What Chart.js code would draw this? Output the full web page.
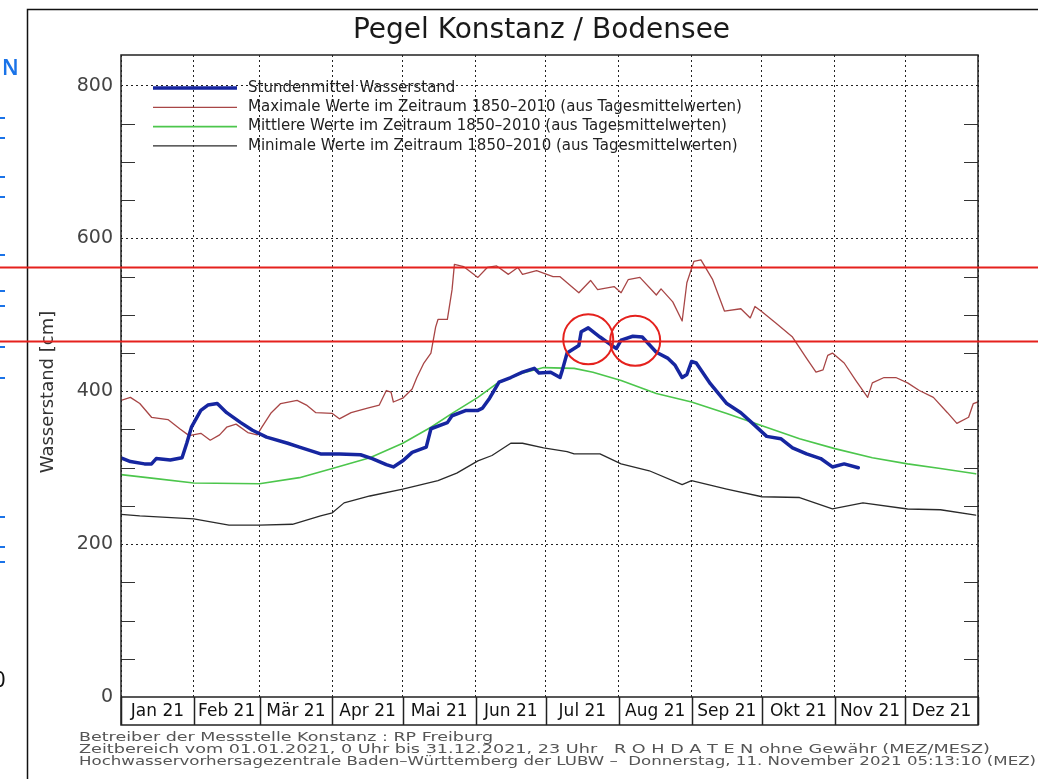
<!DOCTYPE html>
<html lang="de">
<head>
<meta charset="UTF-8">
<title>Pegel Konstanz / Bodensee</title>
<script src="https://cdn.jsdelivr.net/npm/chart.js@4.4.1/dist/chart.umd.min.js"></script>
<style>
    html, body {
        margin: 0;
        padding: 0;
        background: #fff;
    }
    body {
        width: 1038px;
        height: 779px;
        position: relative;
        overflow: hidden;
        font-family: 'DejaVu Sans', sans-serif;
    }
    #wrap {
        position: absolute;
        left: 0;
        top: 0;
        width: 1038px;
        height: 779px;
    }
    .edge-n {
        position: absolute;
        left: 2px;
        top: 55px;
        color: #1a73e8;
        font: 600 21px 'Noto Sans', sans-serif;
        line-height: 24px;
    }
    .edge-0 {
        position: absolute;
        left: -7px;
        top: 665px;
        color: #111;
        font: 22px 'Noto Sans', sans-serif;
        line-height: 26px;
    }
    .lnk {
        position: absolute;
        left: 0;
        width: 5px;
        height: 2px;
        background: #1a73e8;
    }
</style>
</head>
<body>
<div id="wrap"><canvas id="pegel" width="1038" height="779"></canvas></div>

<div class="edge-n">N</div>
<div class="edge-0">0</div>
<div class="lnk" style="top:117px"></div>
<div class="lnk" style="top:137px"></div>
<div class="lnk" style="top:176px"></div>
<div class="lnk" style="top:196px"></div>
<div class="lnk" style="top:254px"></div>
<div class="lnk" style="top:290px"></div>
<div class="lnk" style="top:305px"></div>
<div class="lnk" style="top:346px"></div>
<div class="lnk" style="top:377px"></div>
<div class="lnk" style="top:516px"></div>
<div class="lnk" style="top:546px"></div>
<div class="lnk" style="top:561px"></div>

<script>
    // months of 2021, x values are days since 1 Jan
    const monthLabels = ['Jan 21', 'Feb 21', 'Mär 21', 'Apr 21', 'Mai 21', 'Jun 21',
                         'Jul 21', 'Aug 21', 'Sep 21', 'Okt 21', 'Nov 21', 'Dez 21'];
    const monthStarts = [0, 31, 59, 90, 120, 151, 181, 212, 243, 273, 304, 334, 365];

    const yTicks = [0, 50, 100, 150, 200, 250, 300, 350, 400, 450, 500, 550, 600, 650, 700, 750, 800];
    const gridLevels = [200, 400, 600, 800];

    // Stundenmittel Wasserstand 2021 (cm), read up to 11 Nov
    const stundenmittel = [
        [0, 313], [4, 308], [10, 305], [13, 305], [15, 312], [21, 310], [26, 313], [28, 332],
        [30, 353], [34, 375], [37, 382], [41, 384], [45, 372], [51, 359], [56, 349], [62, 340],
        [71, 332], [76, 327], [85, 318], [93, 318], [102, 317], [107, 312], [113, 304], [116, 301],
        [120, 309], [124, 320], [130, 327], [132, 351], [139, 359], [141, 368], [147, 375], [152, 375],
        [154, 378], [157, 391], [161, 412], [166, 418], [171, 425], [176, 430], [178, 424], [183, 425],
        [187, 418], [188, 428], [190, 450], [193, 456], [195, 460], [196, 478], [199, 483], [204, 471],
        [209, 460], [211, 456], [213, 467], [218, 472], [222, 471], [228, 451], [233, 443], [236, 434],
        [239, 418], [241, 422], [243, 439], [245, 437], [251, 410], [258, 384], [264, 372], [269, 358],
        [275, 341], [281, 338], [286, 326], [292, 318], [298, 312], [303, 301], [308, 305], [314, 300]
    ];

    // Maximale Werte 1850-2010
    const maxWerte = [
        [0, 388], [4, 392], [8, 384], [13, 366], [20, 363], [25, 351], [29, 342], [34, 345],
        [38, 336], [42, 343], [45, 353], [49, 357], [54, 346], [58, 343], [60, 353], [64, 372],
        [68, 384], [75, 388], [79, 382], [83, 372], [90, 371], [93, 364], [98, 372], [105, 378],
        [110, 382], [113, 401], [115, 399], [116, 386], [120, 391], [124, 403], [126, 418], [129, 437],
        [132, 450], [134, 484], [135, 494], [139, 494], [141, 533], [142, 566], [146, 563], [152, 549],
        [156, 562], [160, 564], [165, 553], [169, 562], [171, 553], [177, 558], [184, 550], [187, 550],
        [195, 529], [200, 545], [203, 533], [210, 537], [213, 529], [216, 546], [221, 549], [228, 526],
        [230, 534], [235, 517], [239, 492], [241, 542], [244, 570], [247, 572], [252, 546], [257, 505],
        [264, 508], [268, 496], [270, 511], [273, 504], [279, 489], [286, 471], [292, 443], [296, 425],
        [299, 428], [301, 447], [303, 450], [308, 437], [313, 414], [318, 392], [320, 411], [325, 418],
        [330, 418], [335, 411], [340, 401], [346, 392], [352, 372], [356, 358], [361, 366], [363, 384],
        [365, 386]
    ];

    // Mittlere Werte 1850-2010
    const mittelWerte = [
        [0, 291], [14, 286], [31, 280], [59, 279], [76, 287], [90, 299], [106, 313], [120, 332],
        [132, 353], [141, 371], [152, 392], [160, 410], [170, 423], [180, 431], [193, 430], [201, 425],
        [213, 414], [228, 397], [243, 386], [258, 371], [273, 355], [289, 338], [304, 325], [320, 313],
        [335, 305], [349, 299], [364, 292]
    ];

    // Minimale Werte 1850-2010
    const minWerte = [
        [0, 239], [8, 237], [31, 233], [46, 225], [59, 225], [73, 226], [85, 237], [90, 241],
        [95, 254], [106, 263], [120, 272], [135, 283], [143, 293], [152, 309], [158, 316], [166, 332],
        [171, 332], [180, 326], [190, 321], [193, 318], [204, 318], [213, 305], [225, 296], [239, 278],
        [243, 283], [258, 272], [273, 262], [289, 261], [303, 246], [316, 254], [335, 246], [349, 245],
        [364, 238]
    ];

    // red hand-drawn marks on the screenshot (cm levels, circle centres as day / cm)
    const markLevels = [562, 465];
    const markCircles = [[199, 468], [219, 466]];

    const footerLines = [
        'Betreiber der Messstelle Konstanz : RP Freiburg',
        'Zeitbereich vom 01.01.2021, 0 Uhr bis 31.12.2021, 23 Uhr   R O H D A T E N ohne Gewähr (MEZ/MESZ)',
        'Hochwasservorhersagezentrale Baden\u2013Württemberg der LUBW \u2013  Donnerstag, 11. November 2021 05:13:10 (MEZ)'
    ];
    const footerWidths = [414, 911, 957];

    const monthMids = monthStarts.slice(0, -1).map((d, i) => (d + monthStarts[i + 1]) / 2);
    const xTicks = [...monthStarts, ...monthMids].sort((a, b) => a - b);

    const toPoints = arr => arr.map(p => ({ x: p[0], y: p[1] }));

    const pegelDecor = {
        id: 'pegelDecor',
        beforeDraw(chart) {
            const c = chart.ctx;
            c.save();
            c.fillStyle = '#fff';
            c.fillRect(0, 0, chart.width, chart.height);
            // outer frame of the picture
            c.strokeStyle = '#111';
            c.lineWidth = 1.5;
            c.beginPath();
            c.moveTo(27.5, chart.height);
            c.lineTo(27.5, 9.5);
            c.lineTo(chart.width, 9.5);
            c.stroke();
            c.restore();
        },
        afterDatasetsDraw(chart) {
            const c = chart.ctx, a = chart.chartArea, x = chart.scales.x, y = chart.scales.y;
            c.save();
            // small inward ticks every 50 cm on both sides
            c.strokeStyle = '#333';
            c.lineWidth = 1.2;
            c.beginPath();
            yTicks.forEach(v => {
                if (v === 0 || gridLevels.includes(v)) return;
                const py = Math.round(y.getPixelForValue(v)) + 0.5;
                c.moveTo(a.left, py); c.lineTo(a.left + 14, py);
                c.moveTo(a.right, py); c.lineTo(a.right - 14, py);
            });
            c.stroke();

            // plot box and month label boxes
            const rowBottom = a.bottom + 28;
            c.strokeStyle = '#222';
            c.lineWidth = 1.5;
            c.strokeRect(a.left, a.top, a.right - a.left, rowBottom - a.top);
            c.beginPath();
            c.moveTo(a.left, a.bottom);
            c.lineTo(a.right, a.bottom);
            monthStarts.forEach(d => {
                const px = Math.round(x.getPixelForValue(d)) + 0.5;
                c.moveTo(px, a.bottom);
                c.lineTo(px, rowBottom);
            });
            c.stroke();
            c.restore();
        },
        afterDraw(chart) {
            const c = chart.ctx, a = chart.chartArea, x = chart.scales.x, y = chart.scales.y;
            c.save();

            // title
            c.fillStyle = '#1a1a1a';
            c.font = "28px 'DejaVu Sans'";
            c.textAlign = 'center';
            c.textBaseline = 'middle';
            c.fillText('Pegel Konstanz / Bodensee', (a.left + a.right) / 2 - 8, 31);

            // y axis title
            c.save();
            c.translate(48, 392);
            c.rotate(-Math.PI / 2);
            c.fillStyle = '#333';
            c.font = "18px 'DejaVu Sans'";
            c.fillText('Wasserstand [cm]', 0, 0);
            c.restore();

            // legend inside the plot
            c.textAlign = 'left';
            c.font = "15px 'DejaVu Sans'";
            chart.data.datasets.forEach((ds, i) => {
                const ly = a.top + 33 + i * 19.3;
                c.strokeStyle = ds.borderColor;
                c.lineWidth = ds.borderWidth;
                c.beginPath();
                c.moveTo(a.left + 32, ly);
                c.lineTo(a.left + 116, ly);
                c.stroke();
                c.fillStyle = '#222';
                c.fillText(ds.label, a.left + 127, ly);
            });

            // footer lines
            c.fillStyle = '#555';
            c.font = "13px 'DejaVu Sans'";
            footerLines.forEach((line, i) => {
                const w = c.measureText(line).width;
                c.save();
                c.translate(79, 738 + i * 12);
                c.scale(footerWidths[i] / w, 1);
                c.fillText(line, 0, 0);
                c.restore();
            });

            // red marks
            c.strokeStyle = '#e5211d';
            c.lineWidth = 2;
            c.beginPath();
            markLevels.forEach(v => {
                const py = y.getPixelForValue(v);
                c.moveTo(0, py);
                c.lineTo(chart.width, py);
            });
            c.stroke();
            markCircles.forEach(p => {
                c.beginPath();
                c.arc(x.getPixelForValue(p[0]), y.getPixelForValue(p[1]), 25, 0, Math.PI * 2);
                c.stroke();
            });
            c.restore();
        }
    };

    new Chart(document.getElementById('pegel').getContext('2d'), {
        type: 'line',
        data: {
            datasets: [
                {
                    label: 'Stundenmittel Wasserstand',
                    data: toPoints(stundenmittel),
                    borderColor: '#1626a0',
                    borderWidth: 3.5
                },
                {
                    label: 'Maximale Werte im Zeitraum 1850\u20132010 (aus Tagesmittelwerten)',
                    data: toPoints(maxWerte),
                    borderColor: '#a84646',
                    borderWidth: 1.3
                },
                {
                    label: 'Mittlere Werte im Zeitraum 1850\u20132010 (aus Tagesmittelwerten)',
                    data: toPoints(mittelWerte),
                    borderColor: '#4cc64c',
                    borderWidth: 1.6
                },
                {
                    label: 'Minimale Werte im Zeitraum 1850\u20132010 (aus Tagesmittelwerten)',
                    data: toPoints(minWerte),
                    borderColor: '#2a2a2a',
                    borderWidth: 1.3
                }
            ]
        },
        options: {
            responsive: false,
            animation: false,
            devicePixelRatio: 1,
            layout: {
                padding: { left: 28, top: 55, right: 60, bottom: 0 }
            },
            elements: {
                point: { radius: 0 },
                line: { tension: 0, borderJoinStyle: 'round', borderCapStyle: 'round' }
            },
            plugins: {
                legend: { display: false },
                tooltip: { enabled: false },
                title: { display: false }
            },
            scales: {
                x: {
                    type: 'linear',
                    min: 0,
                    max: 365,
                    afterFit(s) { s.height = 82; },
                    afterBuildTicks(s) { s.ticks = xTicks.map(v => ({ value: v })); },
                    ticks: {
                        autoSkip: false,
                        maxRotation: 0,
                        padding: 4,
                        color: '#111',
                        font: { family: 'DejaVu Sans', size: 17 },
                        callback: function(value) {
                            const i = monthMids.indexOf(value);
                            return i >= 0 ? monthLabels[i] : '';
                        }
                    },
                    grid: {
                        drawTicks: false,
                        lineWidth: 1,
                        color: ctx => monthStarts.includes(ctx.tick && ctx.tick.value) ? '#222' : 'rgba(0,0,0,0)'
                    },
                    border: { display: false, dash: [2, 3] }
                },
                y: {
                    min: 0,
                    max: 840,
                    afterFit(s) { s.width = 93; },
                    afterBuildTicks(s) { s.ticks = yTicks.map(v => ({ value: v })); },
                    ticks: {
                        autoSkip: false,
                        padding: 8,
                        color: '#444',
                        font: { family: 'DejaVu Sans', size: 19 },
                        callback: v => (v === 0 || gridLevels.includes(v)) ? v : ''
                    },
                    grid: {
                        drawTicks: false,
                        lineWidth: 1,
                        color: ctx => gridLevels.includes(ctx.tick && ctx.tick.value) ? '#222' : 'rgba(0,0,0,0)'
                    },
                    border: { display: false, dash: [2, 3] }
                }
            }
        },
        plugins: [pegelDecor]
    });
</script>
</body>
</html>
